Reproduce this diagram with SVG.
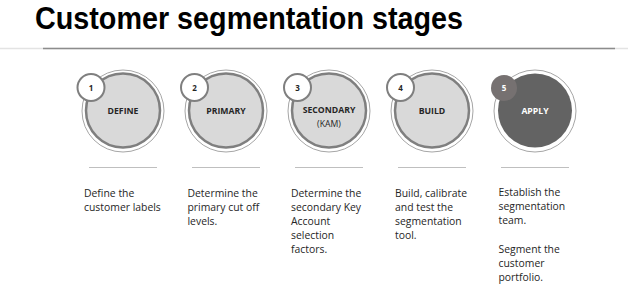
<svg xmlns="http://www.w3.org/2000/svg" width="628" height="304" viewBox="0 0 628 304">
<style>
.title{font-family:"Liberation Sans",Arial,sans-serif;font-weight:bold;font-size:31px;fill:#000}
.ring{fill:#fff;stroke:#a6a6a6;stroke-width:1}
.main{fill:#d9d9d9;stroke:#7f7f7f;stroke-width:2.5}
.badge{fill:#fff;stroke:#7f7f7f;stroke-width:2}
.num{font-family:"Open Sans","Liberation Sans",sans-serif;font-weight:bold;font-size:8px;fill:#262626;text-anchor:middle}
.lbl{font-family:"Open Sans","Liberation Sans",sans-serif;font-weight:bold;font-size:8.7px;fill:#262626;text-anchor:middle}
.sub{font-family:"Open Sans","Liberation Sans",sans-serif;font-size:8.7px;fill:#262626;text-anchor:middle}
.sep{stroke:#bfbfbf;stroke-width:1}
.body{font-family:"Open Sans","Liberation Sans",sans-serif;font-size:10.4px;fill:#262626}
</style>
<rect width="628" height="304" fill="#fff"/>
<text class="title" x="35" y="28.5" textLength="428" lengthAdjust="spacingAndGlyphs">Customer segmentation stages</text>
<line x1="0" y1="48.5" x2="628" y2="48.5" stroke="#e3e3e3" stroke-width="1.5"/>
<line x1="43" y1="48.5" x2="615" y2="48.5" stroke="#8c8c8c" stroke-width="1.5"/>

<g id="node1">
<circle class="ring" cx="123" cy="111" r="41"/>
<circle class="main" cx="123" cy="110.5" r="37"/>
<circle class="badge" cx="91" cy="87.5" r="13.5"/>
<text class="num" x="91" y="90.5">1</text>
<text class="lbl" x="123" y="114">DEFINE</text>
<line class="sep" x1="89" y1="167.5" x2="157" y2="167.5"/>
<text class="body" x="84" y="197"><tspan x="84">Define the</tspan><tspan x="84" dy="14">customer labels</tspan></text>
</g>

<g id="node2">
<circle class="ring" cx="226" cy="111" r="41"/>
<circle class="main" cx="226" cy="110.5" r="37"/>
<circle class="badge" cx="194.5" cy="87.5" r="13.5"/>
<text class="num" x="194.5" y="90.5">2</text>
<text class="lbl" x="226" y="114">PRIMARY</text>
<line class="sep" x1="192" y1="167.5" x2="260" y2="167.5"/>
<text class="body" x="187.5" y="197"><tspan x="187.5">Determine the</tspan><tspan x="187.5" dy="14">primary cut off</tspan><tspan x="187.5" dy="14">levels.</tspan></text>
</g>

<g id="node3">
<circle class="ring" cx="329" cy="111" r="41"/>
<circle class="main" cx="329" cy="110.5" r="37"/>
<circle class="badge" cx="297.5" cy="87.5" r="13.5"/>
<text class="num" x="297.5" y="90.5">3</text>
<text class="lbl" x="329" y="113">SECONDARY</text>
<text class="sub" x="329" y="127">(KAM)</text>
<line class="sep" x1="295" y1="167.5" x2="363" y2="167.5"/>
<text class="body" x="291" y="197"><tspan x="291">Determine the</tspan><tspan x="291" dy="14">secondary Key</tspan><tspan x="291" dy="14">Account</tspan><tspan x="291" dy="14">selection</tspan><tspan x="291" dy="14">factors.</tspan></text>
</g>

<g id="node4">
<circle class="ring" cx="432" cy="111" r="41"/>
<circle class="main" cx="432" cy="110.5" r="37"/>
<circle class="badge" cx="400.5" cy="87.5" r="13.5"/>
<text class="num" x="400.5" y="90.5">4</text>
<text class="lbl" x="432" y="114">BUILD</text>
<line class="sep" x1="398" y1="167.5" x2="466" y2="167.5"/>
<text class="body" x="395" y="197"><tspan x="395">Build, calibrate</tspan><tspan x="395" dy="14">and test the</tspan><tspan x="395" dy="14">segmentation</tspan><tspan x="395" dy="14">tool.</tspan></text>
</g>

<g id="node5">
<circle class="ring" cx="535" cy="111" r="41"/>
<circle cx="535" cy="110.5" r="37" fill="#636363"/>
<circle cx="504" cy="88" r="13" fill="#767171"/>
<text class="num" x="504" y="91" style="fill:#fff">5</text>
<text class="lbl" x="535" y="114" style="fill:#fff">APPLY</text>
<line class="sep" x1="501" y1="167.5" x2="569" y2="167.5"/>
<text class="body" x="498.5" y="196"><tspan x="498.5">Establish the</tspan><tspan x="498.5" dy="14">segmentation</tspan><tspan x="498.5" dy="14">team.</tspan><tspan x="498.5" dy="29">Segment the</tspan><tspan x="498.5" dy="14">customer</tspan><tspan x="498.5" dy="14">portfolio.</tspan></text>
</g>
<g id="connectors"></g>
</svg>
